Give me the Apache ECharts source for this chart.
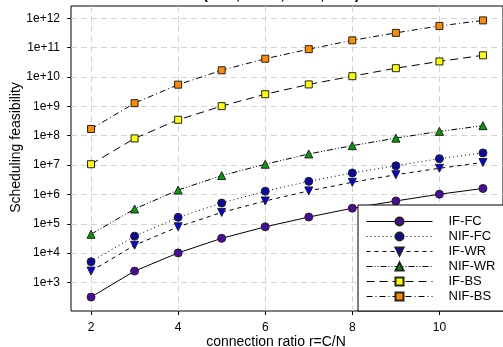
<!DOCTYPE html>
<html>
<head>
<meta charset="utf-8">
<script src="https://cdn.jsdelivr.net/npm/echarts@6/dist/echarts.min.js"></script>
<style>html,body{margin:0;padding:0;background:#fff;}#c{width:503px;height:347px;}</style>
</head>
<body>
<div id="c"></div>
<script>
var ratios = [2, 3, 4, 5, 6, 7, 8, 9, 10, 11];
var xTicks = [2, 4, 6, 8, 10];
var yTickExps = [3, 4, 5, 6, 7, 8, 9, 10, 11, 12];
var seriesNames = ['IF-FC', 'NIF-FC', 'IF-WR', 'NIF-WR', 'IF-BS', 'NIF-BS'];
var ifFC  = [3.2e2, 2.45e3, 1.02e4, 3.2e4, 7.9e4, 1.7e5, 3.4e5, 6.0e5, 1.02e6, 1.6e6];
var nifFC = [5.1e3, 3.8e4, 1.66e5, 5.1e5, 1.29e6, 2.8e6, 5.4e6, 9.5e6, 1.66e7, 2.6e7];
var ifWR  = [2.45e3, 1.86e4, 7.9e4, 2.45e5, 6.0e5, 1.32e6, 2.6e6, 4.7e6, 7.8e6, 1.23e7];
var nifWR = [4.4e4, 3.2e5, 1.41e6, 4.4e6, 1.07e7, 2.4e7, 4.6e7, 8.3e7, 1.41e8, 2.2e8];
var ifBS  = [1.07e7, 8.1e7, 3.5e8, 1.02e9, 2.6e9, 5.6e9, 1.07e10, 2.0e10, 3.4e10, 5.5e10];
var nifBS = [1.7e8, 1.29e9, 5.5e9, 1.7e10, 4.2e10, 8.9e10, 1.78e11, 3.2e11, 5.5e11, 8.5e11];
var titleText = '(N=5, C=10, W=3, L=2)';
var xName = 'connection ratio r=C/N';
var yName = 'Scheduling feasibility';

var allData = [ifFC, nifFC, ifWR, nifWR, ifBS, nifBS];
var colors = ['#4B0C9E', '#0A0AA0', '#0000F0', '#00A000', '#FFFF00', '#FF8C00'];
var symbols = ['circle', 'circle', 'triangle', 'triangle', 'rect', 'rect'];
var rotates = [0, 0, 180, 0, 0, 0];
var sizes = [8, 8, 8, 8, 7, 7];
var dashes = ['solid', [1, 3], [4, 4], [6, 2, 1, 2, 1, 2], [8, 5], [6, 3, 1, 3]];

var chart = echarts.init(document.getElementById('c'));
var series = seriesNames.map(function (n, i) {
  return {
    name: n,
    type: 'line',
    data: ratios.map(function (r, j) { return [r, Math.log10(allData[i][j])]; }),
    symbol: symbols[i],
    symbolSize: sizes[i],
    symbolRotate: rotates[i],
    showAllSymbol: true,
    animation: false,
    lineStyle: { color: '#000', width: 1, type: dashes[i] },
    itemStyle: { color: colors[i], borderColor: '#222', borderWidth: 1 },
    emphasis: { disabled: true }
  };
});

chart.setOption({
  animation: false,
  textStyle: { fontFamily: 'Liberation Sans' },
  grid: { left: 71, right: 0, top: 6, bottom: 36, show: true, borderColor: '#000', borderWidth: 1,
    backgroundColor: 'transparent', containLabel: false, outerBoundsMode: 'none' },
  graphic: [{
    type: 'text', left: 203, top: -13,
    style: { text: titleText, font: 'bold 15px Liberation Sans', fill: '#000' }
  }],
  legend: {
    orient: 'vertical', left: 358, top: 205,
    data: seriesNames,
    itemWidth: 66, itemHeight: 10, itemGap: 2,
    padding: [10, 40, 8, 8],
    backgroundColor: '#fff', borderColor: '#000', borderWidth: 1, borderRadius: 0,
    lineStyle: { width: 1 },
    textStyle: { fontSize: 13, color: '#000', fontFamily: 'Liberation Sans', padding: [0, 0, 0, 11] },
    selectedMode: false
  },
  xAxis: {
    type: 'value', min: 1.54, max: 11.46,
    name: xName, nameLocation: 'middle', nameGap: 24, nameMoveOverlap: false,
    nameTextStyle: { fontSize: 14, color: '#000', padding: [0, 22, 0, 0] },
    axisLine: { show: false },
    axisTick: { show: true, length: 4, inside: false, customValues: xTicks, lineStyle: { color: '#000' } },
    axisLabel: { customValues: xTicks, fontSize: 12, color: '#000', margin: 11 },
    splitLine: { show: true, lineStyle: { color: '#d3d3cf', type: [6, 4], width: 1 } }
  },
  yAxis: {
    type: 'value', min: 2.03, max: 12.42,
    name: yName, nameLocation: 'middle', nameGap: 48, nameMoveOverlap: false,
    nameTextStyle: { fontSize: 14, color: '#000', padding: [0, 0, 0, 22] },
    axisLine: { show: false },
    axisTick: { show: true, length: 4, inside: false, customValues: yTickExps, lineStyle: { color: '#000' } },
    axisLabel: { customValues: yTickExps, fontSize: 12, color: '#000', margin: 11,
      formatter: function (v) { return '1e+' + Math.round(v); } },
    splitLine: { show: true, lineStyle: { color: '#d3d3cf', type: [6, 4], width: 1 } }
  },
  series: series
});
</script>
</body>
</html>
